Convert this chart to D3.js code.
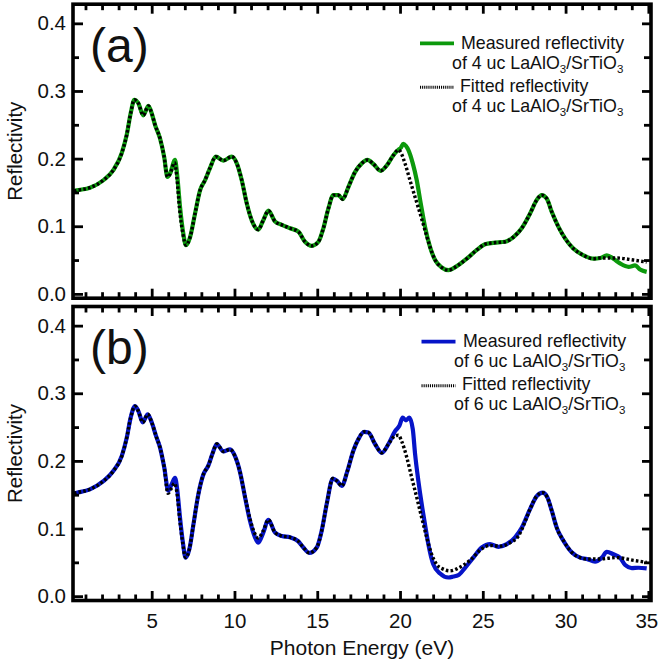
<!DOCTYPE html>
<html>
<head>
<meta charset="utf-8">
<script src="https://cdn.jsdelivr.net/npm/d3@7"></script>
<style>
  body { margin: 0; background: #fff; }
  svg { display: block; }
  text { font-family: "Liberation Sans", Arial, Helvetica, sans-serif; fill: #111; }
</style>
</head>
<body>
<svg id="chart" width="658" height="671"></svg>
<script>
// ---- data -------------------------------------------------------------
const energyTicks = [5, 10, 15, 20, 25, 30, 35];
const energyMinorTicks = d3.range(1, 36).filter(v => v % 5 !== 0);
const reflectivityTicks = [0.0, 0.1, 0.2, 0.3, 0.4];
const reflectivityMinorTicks = [0.05, 0.15, 0.25, 0.35];
const panelLabels = ["(a)", "(b)"];
const sampleThickness = ["4", "6"];

// [photon energy (eV), reflectivity]
const measured4uc = [[0.3,0.152],[0.47,0.153],[1.27,0.157],[2.08,0.168],[2.68,0.183],[3.19,0.208],[3.49,0.235],[3.73,0.267],[3.95,0.287],[4.19,0.282],[4.49,0.264],[4.8,0.278],[5.0,0.267],[5.2,0.25],[5.5,0.23],[5.75,0.203],[5.95,0.173],[6.11,0.178],[6.41,0.198],[6.55,0.173],[6.71,0.129],[6.91,0.089],[7.07,0.072],[7.32,0.084],[7.62,0.119],[7.92,0.153],[8.22,0.168],[8.52,0.186],[8.87,0.203],[9.33,0.197],[9.83,0.203],[10.14,0.193],[10.44,0.168],[10.74,0.134],[11.04,0.109],[11.44,0.095],[11.74,0.109],[12.05,0.123],[12.45,0.107],[12.86,0.102],[13.36,0.097],[13.86,0.092],[14.26,0.077],[14.67,0.071],[15.07,0.077],[15.37,0.097],[15.67,0.126],[15.97,0.146],[16.28,0.146],[16.54,0.14],[16.88,0.158],[17.28,0.18],[17.69,0.193],[18.03,0.198],[18.39,0.192],[18.83,0.182],[19.2,0.19],[19.6,0.205],[19.9,0.213],[20.05,0.216],[20.2,0.222],[20.35,0.219],[20.5,0.213],[20.77,0.193],[21.01,0.168],[21.25,0.134],[21.51,0.099],[21.81,0.0695],[22.12,0.05],[22.52,0.039],[22.92,0.035],[23.43,0.041],[24.03,0.052],[24.64,0.065],[25.14,0.0735],[25.64,0.0755],[26.35,0.077],[26.85,0.084],[27.35,0.097],[27.86,0.119],[28.26,0.139],[28.56,0.146],[28.86,0.141],[29.17,0.121],[29.57,0.099],[29.97,0.082],[30.47,0.067],[31.08,0.057],[31.68,0.052],[32.1,0.053],[32.49,0.057],[32.89,0.052],[33.29,0.045],[33.8,0.04],[34.2,0.042],[34.5,0.036],[34.9,0.0325]];

const fitted4uc = [[0.3,0.152],[0.47,0.153],[1.27,0.157],[2.08,0.168],[2.68,0.183],[3.19,0.208],[3.49,0.235],[3.73,0.267],[3.95,0.287],[4.19,0.282],[4.49,0.264],[4.8,0.278],[5.0,0.267],[5.2,0.25],[5.5,0.23],[5.75,0.203],[5.95,0.173],[6.11,0.177],[6.38,0.194],[6.52,0.172],[6.68,0.126],[6.89,0.088],[7.07,0.072],[7.32,0.084],[7.62,0.119],[7.92,0.153],[8.22,0.168],[8.52,0.186],[8.87,0.203],[9.33,0.197],[9.83,0.203],[10.14,0.193],[10.44,0.168],[10.74,0.134],[11.04,0.109],[11.44,0.095],[11.74,0.109],[12.05,0.123],[12.45,0.107],[12.86,0.102],[13.36,0.097],[13.86,0.092],[14.26,0.077],[14.67,0.071],[15.07,0.077],[15.37,0.097],[15.67,0.126],[15.97,0.146],[16.28,0.146],[16.54,0.14],[16.88,0.158],[17.28,0.18],[17.69,0.193],[18.03,0.198],[18.39,0.192],[18.83,0.182],[19.2,0.19],[19.6,0.205],[19.9,0.213],[20.0,0.211],[20.3,0.193],[20.6,0.168],[20.91,0.143],[21.21,0.119],[21.51,0.094],[21.81,0.0695],[22.12,0.05],[22.52,0.039],[22.92,0.035],[23.43,0.041],[24.03,0.052],[24.64,0.065],[25.14,0.0735],[25.64,0.0755],[26.35,0.077],[26.85,0.084],[27.35,0.097],[27.86,0.119],[28.26,0.139],[28.56,0.146],[28.86,0.141],[29.17,0.121],[29.57,0.099],[29.97,0.082],[30.47,0.067],[31.08,0.057],[31.68,0.052],[32.1,0.053],[33.1,0.053],[34.1,0.05],[34.9,0.047]];

const measured6uc = [[0.3,0.152],[0.47,0.153],[1.27,0.158],[2.08,0.17],[2.68,0.185],[3.19,0.207],[3.49,0.234],[3.73,0.264],[3.99,0.281],[4.19,0.274],[4.46,0.257],[4.76,0.269],[5.0,0.257],[5.26,0.237],[5.5,0.22],[5.76,0.19],[6.0,0.156],[6.21,0.166],[6.41,0.175],[6.55,0.156],[6.71,0.116],[6.87,0.082],[7.05,0.057],[7.28,0.07],[7.52,0.106],[7.82,0.151],[8.12,0.18],[8.42,0.193],[8.69,0.212],[8.93,0.225],[9.33,0.214],[9.73,0.217],[10.03,0.207],[10.34,0.183],[10.64,0.146],[10.94,0.111],[11.24,0.087],[11.44,0.079],[11.74,0.094],[12.05,0.113],[12.45,0.094],[12.86,0.089],[13.36,0.087],[13.86,0.081],[14.16,0.072],[14.52,0.064],[14.97,0.072],[15.27,0.097],[15.57,0.136],[15.94,0.174],[16.21,0.17],[16.48,0.163],[16.82,0.185],[17.18,0.215],[17.48,0.232],[17.83,0.243],[18.09,0.242],[18.49,0.225],[18.9,0.212],[19.3,0.225],[19.7,0.244],[19.96,0.252],[20.16,0.264],[20.36,0.26],[20.56,0.264],[20.77,0.247],[20.91,0.21],[21.11,0.17],[21.31,0.136],[21.51,0.106],[21.71,0.077],[22.01,0.047],[22.42,0.0335],[22.92,0.0276],[23.22,0.029],[23.52,0.031],[23.93,0.042],[24.43,0.057],[24.94,0.072],[25.44,0.077],[25.94,0.073],[26.45,0.077],[26.95,0.087],[27.35,0.101],[27.86,0.129],[28.26,0.148],[28.62,0.153],[28.9,0.146],[29.17,0.126],[29.47,0.101],[29.87,0.082],[30.37,0.065],[30.88,0.057],[31.28,0.055],[31.78,0.051],[32.19,0.057],[32.49,0.0655],[32.89,0.062],[33.29,0.057],[33.6,0.046],[34.0,0.0415],[34.4,0.042],[34.9,0.041]];

const fitted6uc = [[0.3,0.152],[0.47,0.153],[1.27,0.158],[2.08,0.17],[2.68,0.185],[3.19,0.207],[3.49,0.234],[3.73,0.264],[3.99,0.281],[4.19,0.274],[4.46,0.257],[4.76,0.269],[5.0,0.257],[5.26,0.237],[5.5,0.22],[5.76,0.19],[5.98,0.152],[6.2,0.16],[6.38,0.167],[6.53,0.152],[6.69,0.114],[6.86,0.081],[7.05,0.057],[7.28,0.07],[7.52,0.106],[7.82,0.151],[8.12,0.18],[8.42,0.193],[8.69,0.212],[8.93,0.225],[9.33,0.214],[9.73,0.217],[10.03,0.207],[10.34,0.183],[10.64,0.147],[10.94,0.114],[11.24,0.092],[11.44,0.086],[11.74,0.097],[12.05,0.113],[12.45,0.094],[12.86,0.089],[13.36,0.087],[13.86,0.081],[14.16,0.072],[14.52,0.064],[14.97,0.072],[15.27,0.097],[15.57,0.136],[15.94,0.174],[16.21,0.17],[16.48,0.163],[16.82,0.185],[17.18,0.215],[17.48,0.232],[17.83,0.243],[18.09,0.242],[18.49,0.225],[18.9,0.212],[19.3,0.225],[19.7,0.237],[19.9,0.238],[20.1,0.229],[20.41,0.205],[20.71,0.175],[21.01,0.146],[21.31,0.116],[21.61,0.087],[21.91,0.062],[22.21,0.047],[22.61,0.04],[23.02,0.0375],[23.63,0.043],[24.23,0.053],[24.94,0.07],[25.44,0.075],[26.04,0.074],[26.65,0.079],[27.15,0.089],[27.65,0.116],[27.86,0.129],[28.26,0.148],[28.62,0.153],[28.9,0.146],[29.17,0.126],[29.47,0.101],[29.87,0.082],[30.37,0.065],[30.88,0.057],[31.28,0.055],[32.09,0.055],[33.09,0.057],[34.1,0.053],[34.9,0.05]];

// ---- layout -----------------------------------------------------------
const svg = d3.select("#chart");
const left = 73, right = 651;
const panels = [
  { label: panelLabels[0], uc: sampleThickness[0], measured: measured4uc, fitted: fitted4uc,
    color: "#0c990c", top: 4.2, bottom: 298.2, legendY: 43.3, legendX: 420, textX: 461, subX: 452 },
  { label: panelLabels[1], uc: sampleThickness[1], measured: measured6uc, fitted: fitted6uc,
    color: "#0614c8", top: 306.5, bottom: 600.5, legendY: 341.7, legendX: 421.5, textX: 463, subX: 454 }
];

const x = d3.scaleLinear().domain([0.246, 35.16]).range([left, right]);
const font = '"Liberation Sans", Arial, Helvetica, sans-serif';

panels.forEach((p, i) => {
  const y = d3.scaleLinear().domain([-0.0064, 0.4283]).range([p.bottom, p.top]);
  const g = svg.append("g");

  const clipId = "clip" + i;
  svg.append("clipPath").attr("id", clipId)
    .append("rect").attr("x", left).attr("y", p.top)
    .attr("width", right - left).attr("height", p.bottom - p.top);

  const line = d3.line().x(d => x(d[0])).y(d => y(d[1])).curve(d3.curveMonotoneX);

  const curves = g.append("g").attr("clip-path", `url(#${clipId})`);
  curves.append("path").datum(p.measured)
    .attr("d", line).attr("fill", "none")
    .attr("stroke", p.color).attr("stroke-width", 4.2)
    .attr("stroke-linejoin", "round");
  curves.append("path").datum(p.fitted)
    .attr("d", line).attr("fill", "none")
    .attr("stroke", "#000").attr("stroke-width", 3.4)
    .attr("stroke-dasharray", "2.6,2.2");

  // inward ticks on all four sides
  const styleAxis = sel => {
    sel.select(".domain").remove();
    sel.selectAll(".tick line").attr("stroke", "#000").attr("stroke-width", 2.8);
    sel.selectAll(".tick text").attr("font-family", font).attr("font-size", 20.5).attr("fill", "#111");
  };

  const bottomAxis = g.append("g").attr("transform", `translate(0,${p.bottom})`)
    .call(d3.axisBottom(x).tickValues(energyTicks).tickSize(-9.5).tickSizeOuter(0)
      .tickPadding(13).tickFormat(i === 1 ? d3.format("d") : ""))
    .call(styleAxis);
  // keep the last label inside the page edge
  bottomAxis.selectAll(".tick text").filter(d => d === 35).attr("dx", -2);

  g.append("g").attr("transform", `translate(0,${p.bottom})`)
    .call(d3.axisBottom(x).tickValues(energyMinorTicks).tickSize(-6).tickSizeOuter(0).tickFormat(""))
    .call(styleAxis);
  g.append("g").attr("transform", `translate(0,${p.top})`)
    .call(d3.axisTop(x).tickValues(energyTicks).tickSize(-9.5).tickSizeOuter(0).tickFormat(""))
    .call(styleAxis);
  g.append("g").attr("transform", `translate(0,${p.top})`)
    .call(d3.axisTop(x).tickValues(energyMinorTicks).tickSize(-6).tickSizeOuter(0).tickFormat(""))
    .call(styleAxis);

  g.append("g").attr("transform", `translate(${left},0)`)
    .call(d3.axisLeft(y).tickValues(reflectivityTicks).tickSize(-10).tickSizeOuter(0)
      .tickPadding(7).tickFormat(d3.format(".1f")))
    .call(styleAxis);
  g.append("g").attr("transform", `translate(${left},0)`)
    .call(d3.axisLeft(y).tickValues(reflectivityMinorTicks).tickSize(-6).tickSizeOuter(0).tickFormat(""))
    .call(styleAxis);
  g.append("g").attr("transform", `translate(${right},0)`)
    .call(d3.axisRight(y).tickValues(reflectivityTicks).tickSize(-9).tickSizeOuter(0).tickFormat(""))
    .call(styleAxis);
  g.append("g").attr("transform", `translate(${right},0)`)
    .call(d3.axisRight(y).tickValues(reflectivityMinorTicks).tickSize(-7).tickSizeOuter(0).tickFormat(""))
    .call(styleAxis);

  // frame
  g.append("rect").attr("x", left).attr("y", p.top)
    .attr("width", right - left).attr("height", p.bottom - p.top)
    .attr("fill", "none").attr("stroke", "#000").attr("stroke-width", 3.6);

  // panel letter
  g.append("text").attr("x", 90).attr("y", p.top + 57.8)
    .attr("font-size", 48).text(p.label);

  // y-axis title
  g.append("text")
    .attr("transform", `translate(22,${(p.top + p.bottom) / 2}) rotate(-90)`)
    .attr("text-anchor", "middle").attr("font-size", 20.5).text("Reflectivity");

  // legend
  const lg = g.append("g").attr("font-size", 17.8);
  const ly = p.legendY;
  lg.append("line").attr("x1", p.legendX).attr("x2", p.legendX + 34)
    .attr("y1", ly).attr("y2", ly).attr("stroke", p.color).attr("stroke-width", 3.8);
  lg.append("line").attr("x1", p.legendX).attr("x2", p.legendX + 34)
    .attr("y1", ly + 44).attr("y2", ly + 44).attr("stroke", "#000").attr("stroke-width", 3)
    .attr("stroke-dasharray", "1.1,1");

  const sampleLine = (yy) => {
    const t = lg.append("text").attr("x", p.subX).attr("y", yy);
    t.append("tspan").text(`of ${p.uc} uc LaAlO`);
    t.append("tspan").attr("font-size", 11.5).attr("dy", 4).text("3");
    t.append("tspan").attr("dy", -4).text("/SrTiO");
    t.append("tspan").attr("font-size", 11.5).attr("dy", 4).text("3");
  };
  lg.append("text").attr("x", p.textX).attr("y", ly + 5.4).text("Measured reflectivity");
  sampleLine(ly + 25.6);
  lg.append("text").attr("x", p.textX - 1).attr("y", ly + 48.2).text("Fitted reflectivity");
  sampleLine(ly + 68.4);
});

// x-axis title
svg.append("text").attr("x", 362).attr("y", 655)
  .attr("text-anchor", "middle").attr("font-size", 21).text("Photon Energy (eV)");
</script>
</body>
</html>
